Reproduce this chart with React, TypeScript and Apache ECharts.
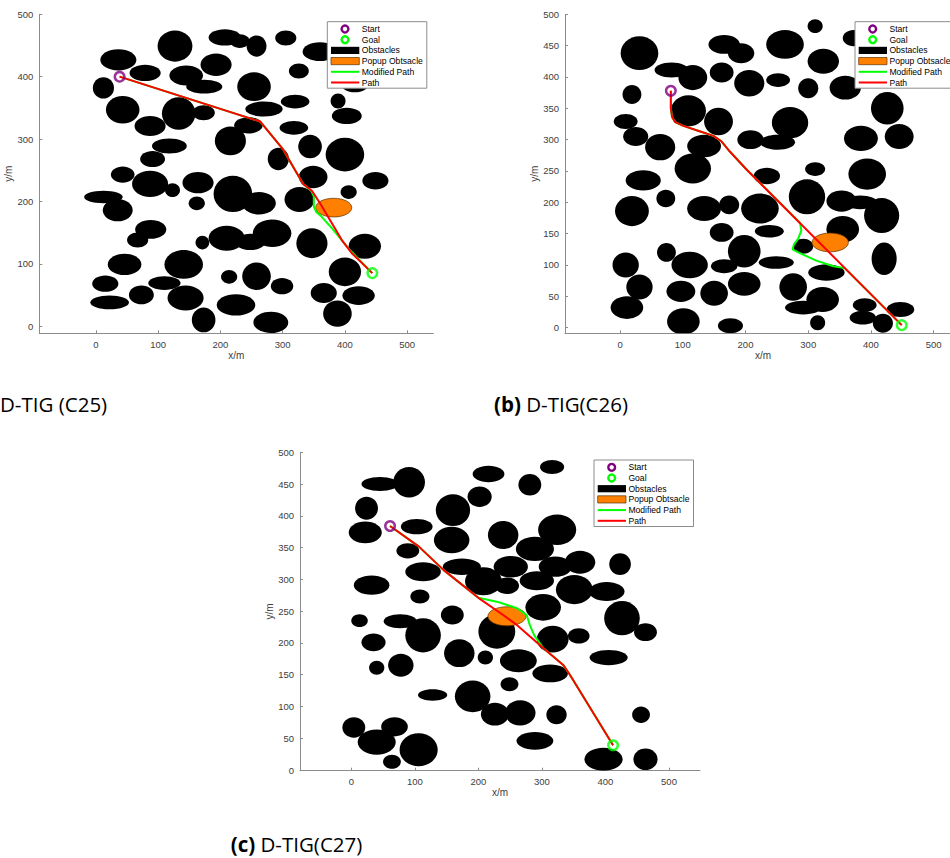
import React, { useEffect, useRef } from "react";
import * as echarts from "echarts";

// ---------- DATA ----------
// obstacles: [x, y, rx, ry] in metres
const obstaclesA = [
  [127, 449, 28, 25], [207, 463, 26, 13], [231, 457, 16, 11], [258, 449, 16, 17], [305, 462, 17, 12],
  [360, 440, 28, 15], [36, 427, 29, 17], [193, 419, 25, 18], [326, 409, 16, 12], [79, 406, 25, 13],
  [145, 402, 27, 16], [174, 384, 29, 11], [12, 382, 17, 17], [254, 384, 27, 23], [416, 388, 22, 13],
  [320, 360, 23, 11], [389, 361, 12, 12], [43, 347, 27, 22], [133, 341, 27, 26], [173, 342, 18, 12],
  [270, 348, 30, 12], [403, 337, 24, 13], [87, 321, 25, 16], [245, 322, 23, 13], [318, 318, 23, 11],
  [118, 289, 28, 12], [216, 297, 25, 23], [344, 288, 19, 19], [400, 275, 31, 27], [91, 268, 20, 13],
  [293, 268, 17, 18], [43, 243, 19, 13], [449, 233, 21, 14], [87, 228, 29, 21], [164, 230, 25, 17],
  [220, 212, 31, 29], [349, 239, 23, 18], [123, 218, 12, 11], [12, 207, 31, 10], [35, 186, 24, 18],
  [162, 197, 13, 11], [262, 197, 27, 18], [327, 203, 24, 20], [406, 215, 13, 11], [88, 155, 25, 15],
  [67, 138, 17, 12], [171, 134, 11, 11], [210, 141, 29, 20], [248, 135, 24, 13], [283, 149, 31, 22],
  [347, 133, 25, 24], [432, 128, 26, 20], [46, 99, 27, 17], [141, 99, 31, 23], [400, 87, 26, 23],
  [15, 68, 21, 13], [110, 69, 26, 11], [214, 79, 13, 11], [258, 80, 23, 22], [299, 64, 18, 13],
  [73, 50, 20, 15], [144, 45, 29, 20], [22, 38, 31, 11], [366, 53, 21, 16], [422, 49, 26, 15],
  [225, 34, 31, 17], [173, 10, 19, 20], [281, 6, 28, 17], [388, 20, 23, 21],
];
const popupA = [[382, 190, 29, 15]];
const pathA = [
  [38, 400], [264, 328], [301, 283], [320, 250], [333, 228], [347, 217], [360, 197],
  [376, 170], [395, 138], [411, 117], [444, 85],
];
const modPathA = [
  [38, 400], [264, 328], [301, 283], [320, 250], [333, 228], [346, 217], [350, 208],
  [350, 192], [354, 183], [362, 176], [380, 156], [408, 122], [444, 85],
];
const startA = [38, 400];
const goalA = [444, 85];

const obstaclesB = [
  [31, 438, 30, 27], [166, 452, 25, 15], [193, 438, 21, 16], [263, 452, 30, 23], [311, 481, 12, 11],
  [372, 462, 17, 13], [324, 425, 25, 20], [82, 411, 27, 12], [116, 399, 23, 20], [162, 407, 19, 16],
  [206, 390, 24, 21], [252, 395, 19, 11], [300, 382, 16, 16], [359, 383, 25, 19], [19, 372, 15, 15],
  [426, 350, 26, 26], [109, 346, 28, 25], [157, 329, 23, 22], [271, 327, 29, 25], [9, 329, 19, 12],
  [25, 305, 20, 15], [64, 288, 24, 21], [134, 290, 27, 18], [208, 300, 21, 15], [251, 296, 28, 12],
  [384, 302, 27, 20], [445, 305, 23, 20], [116, 254, 29, 24], [311, 253, 16, 11], [234, 242, 21, 13],
  [394, 245, 30, 25], [37, 235, 28, 16], [73, 206, 15, 14], [19, 186, 27, 24], [134, 190, 27, 20],
  [174, 196, 16, 15], [223, 190, 30, 24], [298, 209, 29, 28], [353, 202, 24, 17], [383, 200, 27, 11],
  [417, 179, 28, 28], [355, 157, 26, 21], [162, 152, 19, 15], [238, 154, 23, 10], [292, 130, 16, 12],
  [198, 122, 26, 26], [74, 120, 15, 15], [9, 100, 21, 20], [111, 100, 29, 21], [166, 98, 21, 11],
  [249, 104, 28, 10], [421, 110, 20, 26], [31, 65, 21, 20], [97, 58, 23, 17], [150, 55, 22, 20],
  [198, 70, 26, 19], [276, 65, 22, 22], [329, 88, 29, 13], [323, 45, 26, 20], [292, 32, 29, 11],
  [11, 32, 26, 18], [101, 10, 26, 21], [176, 3, 20, 12], [315, 8, 12, 12], [390, 36, 19, 11],
  [387, 16, 21, 11], [419, 7, 16, 15], [447, 29, 22, 12],
];
const popupB = [[335, 136, 29, 15]];
const pathB = [
  [81, 378], [81, 350], [83, 336], [88, 328], [101, 322], [128, 313], [149, 306], [162, 297],
  [175, 281], [202, 252], [449, 4],
];
const modPathB = [
  [81, 378], [81, 350], [83, 336], [88, 328], [101, 322], [128, 313], [149, 306], [162, 297],
  [175, 281], [202, 252], [287, 167], [289, 155], [284, 142], [277, 132], [275, 125],
  [284, 120], [313, 107], [340, 98], [358, 95], [449, 4],
];
const startB = [81, 378];
const goalB = [449, 4];

const obstaclesC = [
  [316, 477, 19, 11], [216, 466, 25, 13], [281, 449, 18, 17], [45, 450, 29, 11], [91, 453, 25, 24],
  [202, 430, 19, 16], [24, 412, 18, 18], [160, 409, 27, 25], [103, 383, 25, 12], [22, 374, 26, 17],
  [158, 362, 28, 21], [239, 370, 24, 22], [324, 378, 30, 24], [289, 348, 30, 19], [89, 345, 18, 12],
  [360, 327, 24, 18], [423, 324, 17, 17], [174, 320, 30, 13], [251, 320, 27, 17], [321, 320, 26, 16],
  [113, 312, 28, 15], [208, 297, 29, 22], [245, 290, 19, 13], [292, 298, 27, 15], [351, 284, 29, 23],
  [402, 281, 28, 15], [32, 291, 28, 15], [108, 273, 15, 11], [302, 256, 28, 21], [426, 239, 28, 27],
  [159, 244, 18, 15], [463, 217, 18, 14], [13, 235, 13, 10], [77, 234, 26, 11], [113, 212, 28, 27],
  [35, 201, 19, 14], [170, 184, 24, 22], [229, 218, 29, 27], [317, 206, 25, 21], [358, 211, 17, 12],
  [405, 177, 30, 12], [211, 177, 12, 11], [263, 172, 29, 18], [78, 165, 20, 18], [40, 161, 12, 11],
  [313, 152, 28, 14], [249, 135, 14, 11], [128, 118, 23, 9], [191, 116, 28, 25], [226, 88, 22, 18],
  [266, 90, 24, 20], [323, 87, 16, 15], [456, 87, 14, 13], [4, 67, 18, 16], [68, 68, 21, 15],
  [40, 44, 30, 20], [106, 32, 30, 26], [64, 13, 14, 11], [289, 46, 29, 14], [397, 17, 30, 18],
  [463, 17, 19, 17],
];
const popupC = [[245, 242, 30, 15]];
const pathC = [
  [61, 384], [106, 352], [145, 315], [200, 271], [239, 244], [261, 228], [302, 192],
  [334, 165], [344, 150], [412, 39],
];
const modPathC = [
  [61, 384], [106, 352], [145, 315], [200, 271], [229, 265], [260, 255], [276, 244],
  [281, 228], [288, 212], [302, 192], [334, 165], [344, 150], [412, 39],
];
const startC = [61, 384];
const goalC = [412, 39];

const xTicks = [0, 100, 200, 300, 400, 500];
const yTicksA = [0, 100, 200, 300, 400, 500];
const yTicksB = [0, 50, 100, 150, 200, 250, 300, 350, 400, 450, 500];
const yTicksC = [0, 50, 100, 150, 200, 250, 300, 350, 400, 450, 500];

const legendLabels = ["Start", "Goal", "Obstacles", "Popup Obtsacle", "Modified Path", "Path"];
const captions = ["D-TIG (C25)", "D-TIG(C26)", "D-TIG(C27)"];

// ---------- STYLE / LAYOUT ----------
const AXIS_COLOR = "#8c8c8c";
const LABEL_COLOR = "#404040";
const FONT = "'Liberation Sans', Arial, Helvetica, sans-serif";
const PURPLE = "#800080";
const GREEN = "#00ff00";
const RED = "#ff0000";
const ORANGE = "#ff8000";

const panels = [
  {
    grid: { left: 39.3, top: 14.3, width: 394, height: 319 },
    xr: [-91, 542], yr: [-11.5, 500], yTicks: yTicksA,
    obst: obstaclesA, popup: popupA, path: pathA, mod: modPathA, start: startA, goal: goalA,
    legend: [327.3, 21.7],
  },
  {
    grid: { left: 565, top: 14.3, width: 396, height: 319 },
    xr: [-87.7, 543.5], yr: [-9, 500], yTicks: yTicksB,
    obst: obstaclesB, popup: popupB, path: pathB, mod: modPathB, start: startB, goal: goalB,
    legend: [855, 21.7],
  },
  {
    grid: { left: 300, top: 452.3, width: 400, height: 318.4 },
    xr: [-80.7, 548.8], yr: [-1, 500], yTicks: yTicksC,
    obst: obstaclesC, popup: popupC, path: pathC, mod: modPathC, start: startC, goal: goalC,
    legend: [594, 460],
  },
];

function ellipseRender(fill: string, stroke?: string, lineWidth?: number) {
  return (_params: any, api: any) => {
    const c = api.coord([api.value(0), api.value(1)]);
    const s = api.size([api.value(2), api.value(3)]);
    return {
      type: "ellipse",
      shape: { cx: c[0], cy: c[1], rx: s[0], ry: s[1] },
      style: { fill, stroke: stroke || null, lineWidth: lineWidth || 0 },
    };
  };
}

const LZ = 100;

function legendGroup(L: number, T: number) {
  const rowY = (i: number) => 7.3 + i * 10.7;
  const children: any[] = [
    {
      type: "rect", z: LZ,
      shape: { x: 0, y: 0, width: 99.5, height: 66.5 },
      style: { fill: "#ffffff", stroke: AXIS_COLOR, lineWidth: 1 },
    },
    { type: "circle", z: LZ + 1, shape: { cx: 17.7, cy: rowY(0), r: 3.4 }, style: { fill: "none", stroke: PURPLE, lineWidth: 2.4 } },
    { type: "circle", z: LZ + 1, shape: { cx: 17.7, cy: rowY(1), r: 3.4 }, style: { fill: "none", stroke: GREEN, lineWidth: 2.4 } },
    { type: "rect", z: LZ + 1, shape: { x: 3.7, y: rowY(2) - 3.6, width: 28.3, height: 7.2 }, style: { fill: "#000000" } },
    {
      type: "rect", z: LZ + 1,
      shape: { x: 3.7, y: rowY(3) - 3.6, width: 28.3, height: 7.2 },
      style: { fill: ORANGE, stroke: "#5a3000", lineWidth: 0.7 },
    },
    { type: "line", z: LZ + 1, shape: { x1: 3.7, y1: rowY(4), x2: 32, y2: rowY(4) }, style: { stroke: GREEN, lineWidth: 2 } },
    { type: "line", z: LZ + 1, shape: { x1: 3.7, y1: rowY(5), x2: 32, y2: rowY(5) }, style: { stroke: RED, lineWidth: 2 } },
  ];
  legendLabels.forEach((t, i) => {
    children.push({
      type: "text", z: LZ + 1,
      x: 34.4,
      y: rowY(i),
      style: { text: t, fill: "#000000", font: `8.6px ${FONT}`, verticalAlign: "middle", align: "left" },
    });
  });
  return { type: "group", x: L, y: T, z: LZ, children };
}

function buildOption() {
  const grids: any[] = [];
  const xAxes: any[] = [];
  const yAxes: any[] = [];
  const series: any[] = [];
  const graphics: any[] = [];

  panels.forEach((p, i) => {
    grids.push({ ...p.grid, containLabel: false, outerBoundsMode: "none" });
    xAxes.push({
      type: "value",
      gridIndex: i,
      min: p.xr[0],
      max: p.xr[1],
      axisLine: { show: true, onZero: false, lineStyle: { color: AXIS_COLOR, width: 1 } },
      axisTick: { show: true, inside: true, length: 3, customValues: xTicks, lineStyle: { color: AXIS_COLOR } },
      axisLabel: { customValues: xTicks, fontSize: 9.5, color: LABEL_COLOR, margin: 6, fontFamily: FONT },
      splitLine: { show: false },
      name: "x/m",
      nameLocation: "middle",
      nameGap: 15,
      nameTextStyle: { fontSize: 10, color: LABEL_COLOR, fontFamily: FONT },
    });
    yAxes.push({
      type: "value",
      gridIndex: i,
      min: p.yr[0],
      max: p.yr[1],
      axisLine: { show: true, onZero: false, lineStyle: { color: AXIS_COLOR, width: 1 } },
      axisTick: { show: true, inside: true, length: 3, customValues: p.yTicks, lineStyle: { color: AXIS_COLOR } },
      axisLabel: { customValues: p.yTicks, fontSize: 9.5, color: LABEL_COLOR, margin: 6, fontFamily: FONT },
      splitLine: { show: false },
      name: "y/m",
      nameLocation: "middle",
      nameRotate: 90,
      nameGap: 24,
      nameTextStyle: { fontSize: 10, color: LABEL_COLOR, fontFamily: FONT },
    });

    series.push({
      type: "custom",
      name: "Obstacles",
      xAxisIndex: i,
      yAxisIndex: i,
      data: p.obst,
      encode: { x: 0, y: 1 },
      renderItem: ellipseRender("#000000"),
      clip: true,
      silent: true,
      z: 2,
    });
    series.push({
      type: "custom",
      name: "Popup Obtsacle",
      xAxisIndex: i,
      yAxisIndex: i,
      data: p.popup,
      encode: { x: 0, y: 1 },
      renderItem: ellipseRender(ORANGE, "#5a3000", 0.7),
      clip: true,
      silent: true,
      z: 3,
    });
    series.push({
      type: "line",
      name: "Modified Path",
      xAxisIndex: i,
      yAxisIndex: i,
      data: p.mod,
      symbol: "none",
      lineStyle: { color: GREEN, width: 2 },
      silent: true,
      z: 4,
    });
    series.push({
      type: "line",
      name: "Path",
      xAxisIndex: i,
      yAxisIndex: i,
      data: p.path,
      symbol: "none",
      lineStyle: { color: RED, width: 2 },
      silent: true,
      z: 5,
    });
    series.push({
      type: "scatter",
      name: "Start",
      xAxisIndex: i,
      yAxisIndex: i,
      data: [p.start],
      symbol: "circle",
      symbolSize: 9.5,
      itemStyle: { color: "rgba(0,0,0,0)", borderColor: PURPLE, borderWidth: 2.5 },
      silent: true,
      z: 6,
    });
    series.push({
      type: "scatter",
      name: "Goal",
      xAxisIndex: i,
      yAxisIndex: i,
      data: [p.goal],
      symbol: "circle",
      symbolSize: 9.5,
      itemStyle: { color: "rgba(0,0,0,0)", borderColor: GREEN, borderWidth: 2.5 },
      silent: true,
      z: 6,
    });

    graphics.push(legendGroup(p.legend[0], p.legend[1]));
  });

  const capFamily = "'Open Sans', 'Noto Sans', sans-serif";
  const capFont = `20.5px ${capFamily}`;
  graphics.push({
    type: "text",
    x: 0,
    y: 404,
    z: LZ,
    style: { text: captions[0], fill: "#000", font: capFont, verticalAlign: "middle", align: "left" },
  });
  graphics.push({
    type: "text",
    x: 494,
    y: 404,
    z: LZ,
    style: {
      text: "{b|(b)} " + captions[1],
      fill: "#000",
      font: capFont,
      verticalAlign: "middle",
      align: "left",
      rich: { b: { fontWeight: "bold", fontSize: 20.5, fontFamily: capFamily, fill: "#000" } },
    },
  });
  graphics.push({
    type: "text",
    x: 230.7,
    y: 844,
    z: LZ,
    style: {
      text: "{b|(c)} " + captions[2],
      fill: "#000",
      font: capFont,
      verticalAlign: "middle",
      align: "left",
      rich: { b: { fontWeight: "bold", fontSize: 20.5, fontFamily: capFamily, fill: "#000" } },
    },
  });

  return {
    animation: false,
    backgroundColor: "#ffffff",
    grid: grids,
    xAxis: xAxes,
    yAxis: yAxes,
    series,
    graphic: { elements: graphics },
  };
}

export default function App() {
  const ref = useRef<HTMLDivElement>(null);
  useEffect(() => {
    if (!ref.current) return;
    const chart = echarts.init(ref.current, null, { renderer: "svg", width: 950, height: 858 });
    chart.setOption(buildOption() as any);
    return () => chart.dispose();
  }, []);
  return (
    <div
      ref={ref}
      style={{ position: "absolute", left: 0, top: 0, width: 950, height: 858, background: "#ffffff" }}
    />
  );
}
